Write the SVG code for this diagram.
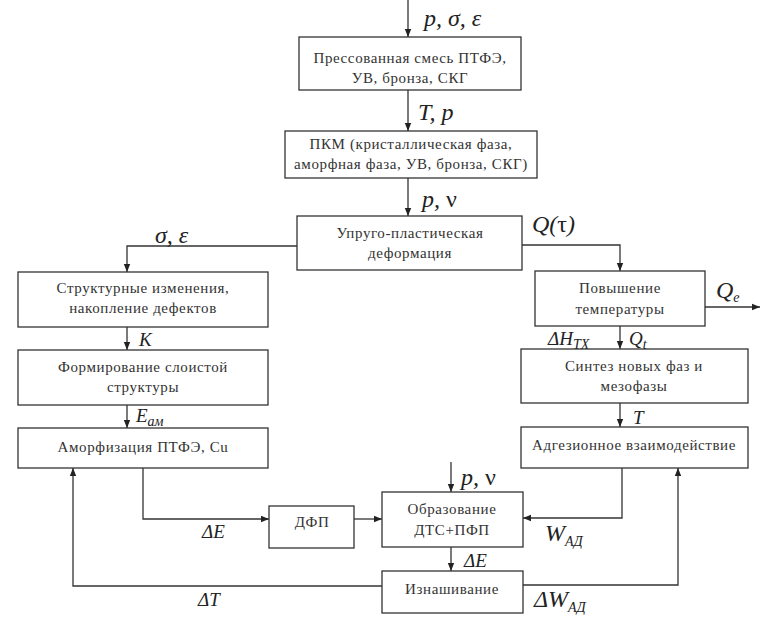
<svg xmlns="http://www.w3.org/2000/svg" width="766" height="630" viewBox="0 0 766 630">
<style>
.box{fill:#fff;stroke:#333;stroke-width:1.3}
.t{font-family:'Liberation Serif','DejaVu Serif',serif;font-size:15px;fill:#333;text-anchor:middle;letter-spacing:0.6px}
.l{font-family:'Liberation Serif','DejaVu Serif',serif;font-size:24px;font-style:italic;fill:#222}
.m{font-size:19px}
.s{font-size:14px}
.u{font-style:normal}
.c{fill:none;stroke:#333;stroke-width:1.3}
</style>
<defs>
<marker id="a" viewBox="0 0 10 10" refX="10" refY="5" markerWidth="8" markerHeight="8" markerUnits="userSpaceOnUse" orient="auto">
<path d="M0,1 L10,5 L0,9 z" fill="#222"/>
</marker>
</defs>
<rect width="766" height="630" fill="#fff"/>
<g id="connectors">
<path class="c" d="M408,0 V37" marker-end="url(#a)"/>
<path class="c" d="M408,90 V131" marker-end="url(#a)"/>
<path class="c" d="M408,178 V216" marker-end="url(#a)"/>
<path class="c" d="M297,246 H127 V272" marker-end="url(#a)"/>
<path class="c" d="M522,245 H620 V271" marker-end="url(#a)"/>
<path class="c" d="M705,307 H760" marker-end="url(#a)"/>
<path class="c" d="M127,327 V350" marker-end="url(#a)"/>
<path class="c" d="M127,405 V428" marker-end="url(#a)"/>
<path class="c" d="M620,326 V349" marker-end="url(#a)"/>
<path class="c" d="M620,403 V427" marker-end="url(#a)"/>
<path class="c" d="M143,468 V519 H269" marker-end="url(#a)"/>
<path class="c" d="M354,519 H382" marker-end="url(#a)"/>
<path class="c" d="M451,462 V492" marker-end="url(#a)"/>
<path class="c" d="M622,468 V518 H523" marker-end="url(#a)"/>
<path class="c" d="M451,547 V571" marker-end="url(#a)"/>
<path class="c" d="M523,585 H678 V468" marker-end="url(#a)"/>
<path class="c" d="M382,586 H73 V468" marker-end="url(#a)"/>
</g>
<g id="labels">
<text class="l" x="424" y="26">p, σ, ε</text>
<text class="l" x="418" y="120">T, p</text>
<text class="l" x="422" y="207">p, <tspan class="u">ν</tspan></text>
<text class="l" x="155" y="243">σ, ε</text>
<text class="l" x="532" y="232">Q(<tspan class="u">τ</tspan>)</text>
<text class="l" x="716" y="298">Q<tspan class="s" dy="4">e</tspan></text>
<text class="l m" x="139" y="346">K</text>
<text class="l m" x="136" y="422">E<tspan class="s" dy="4">ам</tspan></text>
<text class="l m" x="548" y="345">ΔH<tspan class="s" dy="4">TX</tspan></text>
<text class="l m" x="629" y="345">Q<tspan class="s" dy="4">t</tspan></text>
<text class="l m" x="633" y="424">T</text>
<text class="l m" x="202" y="538">ΔE</text>
<text class="l m" x="198" y="606">ΔT</text>
<text class="l" x="461" y="485">p, <tspan class="u">ν</tspan></text>
<text class="l" x="545" y="541">W<tspan class="s" dy="5">АД</tspan></text>
<text class="l m" x="464" y="567">ΔE</text>
<text class="l" x="534" y="607">ΔW<tspan class="s" dy="5">АД</tspan></text>
</g>
<g id="n1"><rect class="box" x="299" y="37" width="222" height="53"/><text class="t" x="410" y="63">Прессованная смесь ПТФЭ,</text><text class="t" x="410" y="83">УВ, бронза, СКГ</text></g>
<g id="n2"><rect class="box" x="285" y="131" width="252" height="47"/><text class="t" x="411" y="149">ПКМ (кристаллическая фаза,</text><text class="t" x="411" y="169">аморфная фаза, УВ, бронза, СКГ)</text></g>
<g id="n3"><rect class="box" x="297" y="216" width="225" height="54"/><text class="t" x="410" y="238">Упруго-пластическая</text><text class="t" x="410" y="258">деформация</text></g>
<g id="n4"><rect class="box" x="18" y="272" width="250" height="55"/><text class="t" x="143" y="293">Структурные изменения,</text><text class="t" x="143" y="313">накопление дефектов</text></g>
<g id="n5"><rect class="box" x="535" y="271" width="170" height="55"/><text class="t" x="620" y="293">Повышение</text><text class="t" x="620" y="314">температуры</text></g>
<g id="n6"><rect class="box" x="18" y="350" width="250" height="55"/><text class="t" x="143" y="372">Формирование слоистой</text><text class="t" x="143" y="392">структуры</text></g>
<g id="n7"><rect class="box" x="18" y="428" width="250" height="40"/><text class="t" x="143" y="452">Аморфизация ПТФЭ, Cu</text></g>
<g id="n8"><rect class="box" x="521" y="349" width="227" height="54"/><text class="t" x="634" y="371">Синтез новых фаз и</text><text class="t" x="634" y="391">мезофазы</text></g>
<g id="n9"><rect class="box" x="521" y="427" width="227" height="41"/><text class="t" x="634" y="450">Адгезионное взаимодействие</text></g>
<g id="n10"><rect class="box" x="269" y="506" width="85" height="42"/><text class="t" x="312" y="527">ДФП</text></g>
<g id="n11"><rect class="box" x="382" y="492" width="141" height="55"/><text class="t" x="452" y="514">Образование</text><text class="t" x="452" y="535">ДТС+ПФП</text></g>
<g id="n12"><rect class="box" x="382" y="571" width="141" height="42"/><text class="t" x="452" y="594">Изнашивание</text></g>
</svg>
